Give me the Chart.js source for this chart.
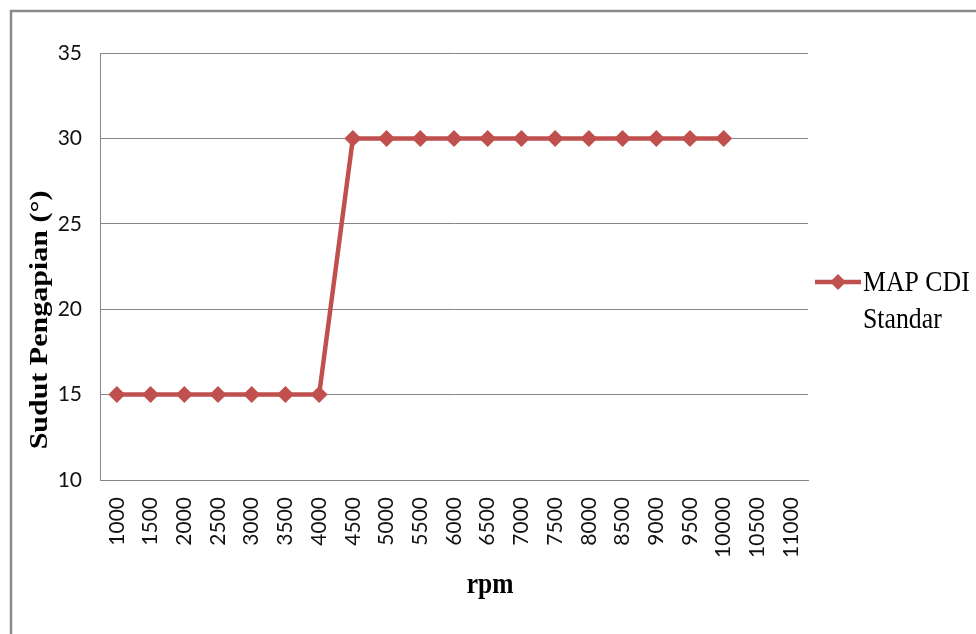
<!DOCTYPE html>
<html>
<head>
<meta charset="utf-8">
<script src="https://cdn.jsdelivr.net/npm/chart.js@4.4.0/dist/chart.umd.min.js"></script>
<style>
    body { margin: 0; background: #fff; }
    canvas { display: block; }
</style>
</head>
<body>
<canvas id="lineChart" width="976" height="634"></canvas>
<script>
// rpm categories (last two have no reading)
const rpmLabels = ['1000', '1500', '2000', '2500', '3000', '3500', '4000', '4500', '5000', '5500',
    '6000', '6500', '7000', '7500', '8000', '8500', '9000', '9500', '10000', '10500', '11000'];

// ignition angle, MAP CDI standar
const sudutStandar = [15, 15, 15, 15, 15, 15, 15, 30, 30, 30, 30, 30, 30, 30, 30, 30, 30, 30, 30];

const seriesName = ['MAP CDI', 'Standar'];
const yTitle = 'Sudut Pengapian (°)';
const xTitle = 'rpm';

const lineRed = '#C0504D';
const gridGray = '#868686';
const serif = '"Liberation Serif", "Times New Roman", serif';
const tickFont = { family: 'Lato, "Open Sans", sans-serif', size: 21 };

// outer frame, axis titles and legend, drawn by hand like the excel original
const decorations = {
    id: 'decorations',
    beforeDraw(chart) {
        const c = chart.ctx;
        c.save();
        c.strokeStyle = '#8a8a8a';
        c.lineWidth = 2.5;
        c.strokeRect(11, 11, chart.width + 20, chart.height + 20);
        c.restore();
    },
    afterDraw(chart) {
        const c = chart.ctx;
        const area = chart.chartArea;
        c.save();
        c.fillStyle = '#000';

        // x title
        c.font = 'bold 30px ' + serif;
        c.textAlign = 'center';
        c.textBaseline = 'alphabetic';
        c.save();
        c.translate(chart.width / 2 + 2, 593);
        c.scale(0.85, 1);
        c.fillText(xTitle, 0, 0);
        c.restore();

        // y title (rotated)
        c.save();
        c.translate(47, 320);
        c.scale(0.85, 1);
        c.rotate(-Math.PI / 2);
        c.fillText(yTitle, 0, 0);
        c.restore();

        // legend
        const lx = area.right + 7;
        const ly = 282;
        c.strokeStyle = lineRed;
        c.lineWidth = 4.5;
        c.beginPath();
        c.moveTo(lx, ly);
        c.lineTo(lx + 46, ly);
        c.stroke();
        c.fillStyle = lineRed;
        c.beginPath();
        c.moveTo(lx + 23, ly - 8);
        c.lineTo(lx + 31, ly);
        c.lineTo(lx + 23, ly + 8);
        c.lineTo(lx + 15, ly);
        c.closePath();
        c.fill();

        c.fillStyle = '#000';
        c.font = '30px ' + serif;
        c.textAlign = 'left';
        seriesName.forEach((line, i) => {
            c.save();
            c.translate(lx + 48, 291 + i * 37);
            c.scale(0.86, 1);
            c.fillText(line, 0, 0);
            c.restore();
        });
        c.restore();
    }
};

const lineChart = document.getElementById('lineChart').getContext('2d');
const lineChartConfig = new Chart(lineChart, {
    type: 'line',
    data: {
        labels: rpmLabels,
        datasets: [{
            label: seriesName.join(' '),
            data: sudutStandar,
            fill: false,
            borderColor: lineRed,
            backgroundColor: lineRed,
            borderWidth: 4.5,
            tension: 0,
            pointStyle: 'rectRot',
            pointRadius: 8.5,
            pointBorderWidth: 0,
            pointBackgroundColor: lineRed
        }]
    },
    options: {
        responsive: false,
        animation: false,
        layout: {
            padding: { left: 0, top: 53, right: 168, bottom: 0 }
        },
        plugins: {
            legend: { display: false },
            tooltip: { enabled: false }
        },
        scales: {
            x: {
                offset: true,
                grid: { display: false, drawTicks: false },
                border: { display: true, color: gridGray, width: 1 },
                ticks: {
                    autoSkip: false,
                    minRotation: 90,
                    maxRotation: 90,
                    padding: 17,
                    color: '#111',
                    font: tickFont
                },
                afterFit(scale) { scale.height = 154; }
            },
            y: {
                min: 10,
                max: 35,
                grid: { color: gridGray, lineWidth: 1, drawTicks: false },
                border: { display: true, color: gridGray, width: 1 },
                ticks: {
                    stepSize: 5,
                    padding: 18,
                    color: '#111',
                    font: tickFont
                },
                afterFit(scale) { scale.width = 100; }
            }
        }
    },
    plugins: [decorations]
});
</script>
</body>
</html>
